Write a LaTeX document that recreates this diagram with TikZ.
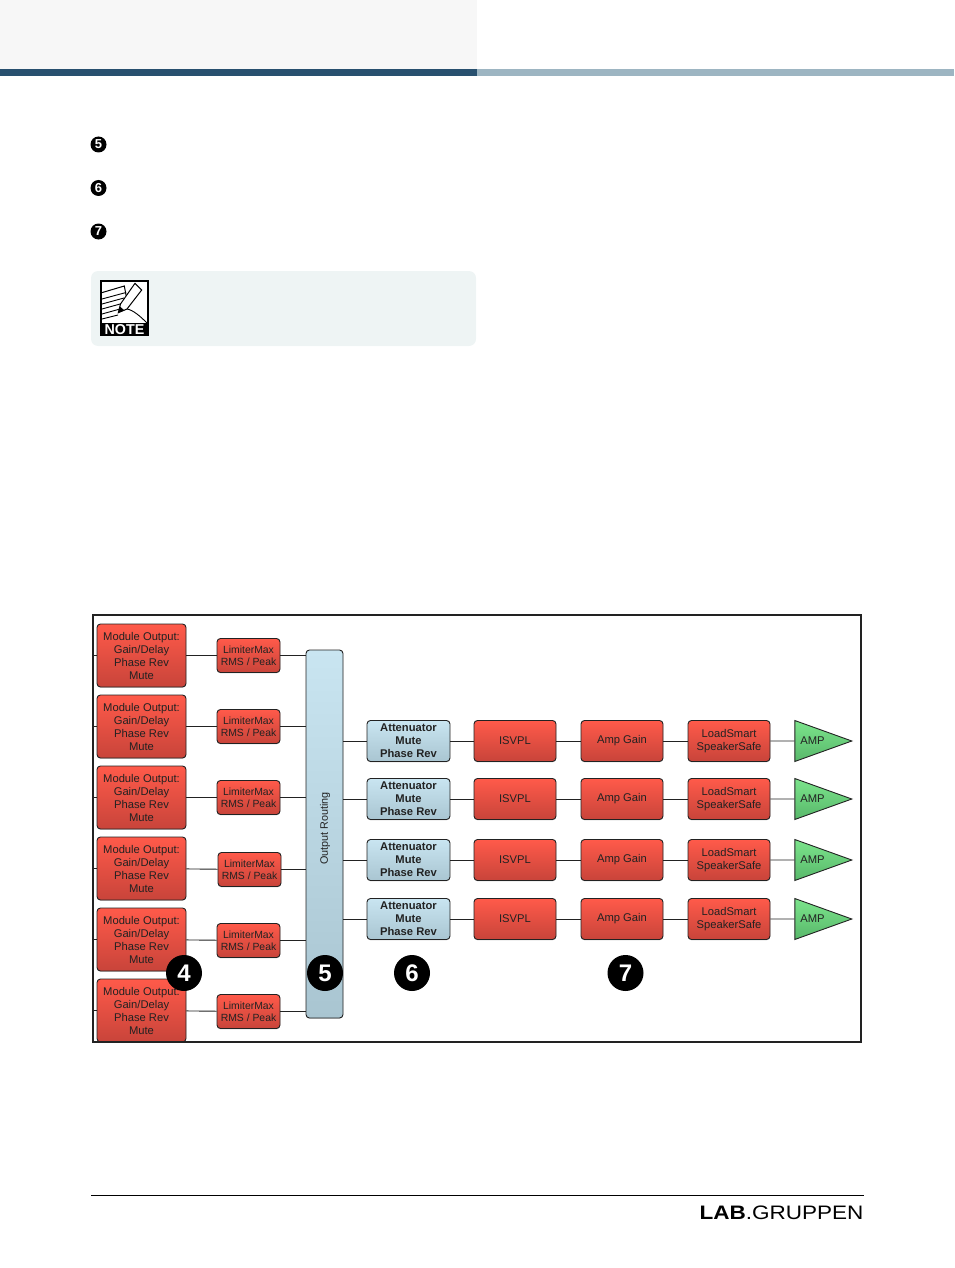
\documentclass[tikz,border=0pt]{standalone}
\usepackage{fontspec}
\setmainfont{Liberation Sans}
\usetikzlibrary{shapes.geometric}
\usetikzlibrary{shadows}
\definecolor{linedark}{HTML}{222222}
\definecolor{redtop}{HTML}{FF5A4A}
\definecolor{redbot}{HTML}{C8443A}
\definecolor{bluetop}{HTML}{C9E5F1}
\definecolor{bluebot}{HTML}{A9C5D1}
\definecolor{greentop}{HTML}{7CE48C}
\definecolor{greenbot}{HTML}{58B86A}
\definecolor{headgrey}{HTML}{F7F7F7}
\definecolor{bardark}{HTML}{28506F}
\definecolor{barlight}{HTML}{9DB5C2}
\definecolor{notebg}{HTML}{EEF4F4}

\begin{document}
\begin{tikzpicture}[x=1pt, y=-1pt, semithick, draw=linedark, node distance=71pt, line width=0.9pt]
    \tikzstyle{box}=[draw=linedark,rounded corners=3.5pt,inner sep=0pt,align=center,text=linedark,
      drop shadow={shadow xshift=0pt,shadow yshift=-0.8pt,opacity=0.35}]
    \tikzstyle{redbox}=[box,top color=redtop,bottom color=redbot]
    \tikzstyle{bluebox}=[box,top color=bluetop,bottom color=bluebot]
    \tikzstyle{module}=[redbox,minimum width=89pt,minimum height=63pt,font=\fontsize{11.2}{13}\selectfont]
    \tikzstyle{limiter}=[redbox,minimum width=63pt,minimum height=34pt,font=\fontsize{10.4}{12}\selectfont]
    \tikzstyle{atten}=[bluebox,minimum width=83pt,minimum height=41pt,font=\fontsize{11.2}{13}\selectfont\bfseries]
    \tikzstyle{stage}=[redbox,minimum width=82pt,minimum height=41pt,font=\fontsize{11.2}{13}\selectfont]
    \tikzstyle{amp}=[isosceles triangle,isosceles triangle stretches,draw=linedark,top color=greentop,bottom color=greenbot,
      minimum width=41pt,minimum height=57pt,inner sep=0pt,text=linedark,font=\fontsize{11.2}{13}\selectfont]
    \tikzstyle{bigdot}=[circle,fill=black,text=white,minimum size=36pt,inner sep=0pt,font=\fontsize{24}{24}\selectfont\bfseries]
    \tikzstyle{smalldot}=[circle,fill=black,text=white,minimum size=16pt,inner sep=0pt,font=\fontsize{13}{13}\selectfont\bfseries]
    \useasboundingbox (0,0) rectangle (954,1268);
    % page head and note
    \fill[headgrey] (0,0) rectangle (477,69);
    \fill[bardark] (0,69) rectangle (477,76);
    \fill[barlight] (477,69) rectangle (954,76);
    \fill[notebg,rounded corners=7pt] (91,271) rectangle (476,346);
    \node[smalldot] (bullet5) at (98.5,144.5) {5};
    \node[smalldot] (bullet6) at (98.5,188) {6};
    \node[smalldot] (bullet7) at (98.5,231.5) {7};
    % note icon
    \fill[black] (100,280) rectangle (149,336);
    \fill[white] (102,282) rectangle (147,323);
    \draw[black,line width=1pt] (101.7,292.7) -- (124.3,286) -- (127,300);
    \draw[black,line width=0.9pt] (102,299) -- (126,292.5) (102,304) -- (124,298) (102,309) -- (122,303.5) (102,314) -- (120,309) (102,319) -- (118,315);
    \fill[white,draw=black,line width=1pt] (118.3,312.7) -- (120.5,304) -- (135,283.3) -- (141.7,290) -- (127,309) -- cycle;
    \fill[black] (118.3,312.7) -- (120,306.5) -- (124.5,310.5) -- cycle;
    \draw[black,line width=0.9pt] (127,309) .. controls (133,310) and (140,316) .. (147,323);
    \node[text=white,inner sep=0pt,font=\fontsize{14.3}{14.3}\selectfont\bfseries] (notelabel) at (124.5,329.5) {NOTE};
    % left column
    \node[module] (mod1) at (141.5,655.5) {Module Output:\\Gain/Delay\\Phase Rev\\Mute};
    \node[module] (mod2)[below of=mod1] {Module Output:\\Gain/Delay\\Phase Rev\\Mute};
    \node[module] (mod3)[below of=mod2] {Module Output:\\Gain/Delay\\Phase Rev\\Mute};
    \node[module] (mod4)[below of=mod3] {Module Output:\\Gain/Delay\\Phase Rev\\Mute};
    \node[module] (mod5)[below of=mod4] {Module Output:\\Gain/Delay\\Phase Rev\\Mute};
    \node[module] (mod6)[below of=mod5] {Module Output:\\Gain/Delay\\Phase Rev\\Mute};
    \node[limiter] (lim1)[right of=mod1,node distance=107pt] {LimiterMax\\RMS / Peak};
    \node[limiter] (lim2)[below of=lim1] {LimiterMax\\RMS / Peak};
    \node[limiter] (lim3)[below of=lim2] {LimiterMax\\RMS / Peak};
    \node[limiter] (lim4)[below of=lim3,xshift=1pt,yshift=-1pt] {LimiterMax\\RMS / Peak};
    \node[limiter] (lim5)[below of=lim3,node distance=143pt] {LimiterMax\\RMS / Peak};
    \node[limiter] (lim6)[below of=lim5] {LimiterMax\\RMS / Peak};
    \node[bluebox,minimum width=37pt,minimum height=368pt] (route) at (324.5,834) {};
    \node[rotate=90,inner sep=0pt,text=linedark,font=\fontsize{10.8}{13}\selectfont] (routelabel) at (325,828.5) {Output Routing};
    % right rows
    \node[atten] (att1) at (408.5,741) {Attenuator\\Mute\\Phase Rev};
    \node[atten] (att2)[below of=att1,node distance=58pt] {Attenuator\\Mute\\Phase Rev};
    \node[atten] (att3)[below of=att2,node distance=61pt] {Attenuator\\Mute\\Phase Rev};
    \node[atten] (att4)[below of=att3,node distance=59pt] {Attenuator\\Mute\\Phase Rev};
    \node[stage] (isv1)[right of=att1,node distance=106.5pt] {ISVPL};
    \node[stage] (isv2)[right of=att2,node distance=106.5pt] {ISVPL};
    \node[stage] (isv3)[right of=att3,node distance=106.5pt] {ISVPL};
    \node[stage] (isv4)[right of=att4,node distance=106.5pt] {ISVPL};
    \node[stage] (gain1)[right of=isv1,node distance=107pt] {Amp Gain};
    \node[stage] (gain2)[right of=isv2,node distance=107pt] {Amp Gain};
    \node[stage] (gain3)[right of=isv3,node distance=107pt] {Amp Gain};
    \node[stage] (gain4)[right of=isv4,node distance=107pt] {Amp Gain};
    \node[stage] (load1)[right of=gain1,node distance=107pt] {LoadSmart\\SpeakerSafe};
    \node[stage] (load2)[right of=gain2,node distance=107pt] {LoadSmart\\SpeakerSafe};
    \node[stage] (load3)[right of=gain3,node distance=107pt] {LoadSmart\\SpeakerSafe};
    \node[stage] (load4)[right of=gain4,node distance=107pt] {LoadSmart\\SpeakerSafe};
    \node[amp] (amp1)[right of=load1,node distance=83.5pt] {AMP};
    \node[amp] (amp2)[right of=load2,node distance=83.5pt] {AMP};
    \node[amp] (amp3)[right of=load3,node distance=83.5pt] {AMP};
    \node[amp] (amp4)[right of=load4,node distance=83.5pt] {AMP};
    % frame ends of the inputs
    \coordinate (in1) at (93,655.5);
    \coordinate (in2) at (93,726.5);
    \coordinate (in3) at (93,797.5);
    \coordinate (in4) at (93,868.5);
    \coordinate (in5) at (93,939.5);
    \coordinate (in6) at (93,1010.5);
    \path
    (in1) edge (mod1) (mod1) edge (lim1) (lim1) edge (route.west |- lim1)
    (in2) edge (mod2) (mod2) edge (lim2) (lim2) edge (route.west |- lim2)
    (in3) edge (mod3) (mod3) edge (lim3) (lim3) edge (route.west |- lim3)
    (in4) edge (mod4) (mod4) edge (lim4) (lim4) edge (route.west |- lim4)
    (in5) edge (mod5) (mod5) edge (lim5) (lim5) edge (route.west |- lim5)
    (in6) edge (mod6) (mod6) edge (lim6) (lim6) edge (route.west |- lim6)
    (route.east |- att1) edge (att1) (att1) edge (isv1) (isv1) edge (gain1) (gain1) edge (load1) (load1) edge (amp1)
    (route.east |- att2) edge (att2) (att2) edge (isv2) (isv2) edge (gain2) (gain2) edge (load2) (load2) edge (amp2)
    (route.east |- att3) edge (att3) (att3) edge (isv3) (isv3) edge (gain3) (gain3) edge (load3) (load3) edge (amp3)
    (route.east |- att4) edge (att4) (att4) edge (isv4) (isv4) edge (gain4) (gain4) edge (load4) (load4) edge (amp4);
    \draw[linedark,line width=2pt] (93,615) rectangle (861,1042);
    \node[bigdot] (badge4) at (184,973) {4};
    \node[bigdot] (badge5) at (325,973) {5};
    \node[bigdot] (badge6) at (412,973) {6};
    \node[bigdot] (badge7) at (625.5,973) {7};
    % foot of the page
    \draw[black,line width=1pt] (91,1195.5) -- (864,1195.5);
    \node[anchor=east,xscale=1.155,inner sep=0pt,text=black,font=\fontsize{19.5}{19.5}\selectfont] (logo) at (864,1212.5) {\textbf{LAB}.GRUPPEN};
\end{tikzpicture}
\end{document}
